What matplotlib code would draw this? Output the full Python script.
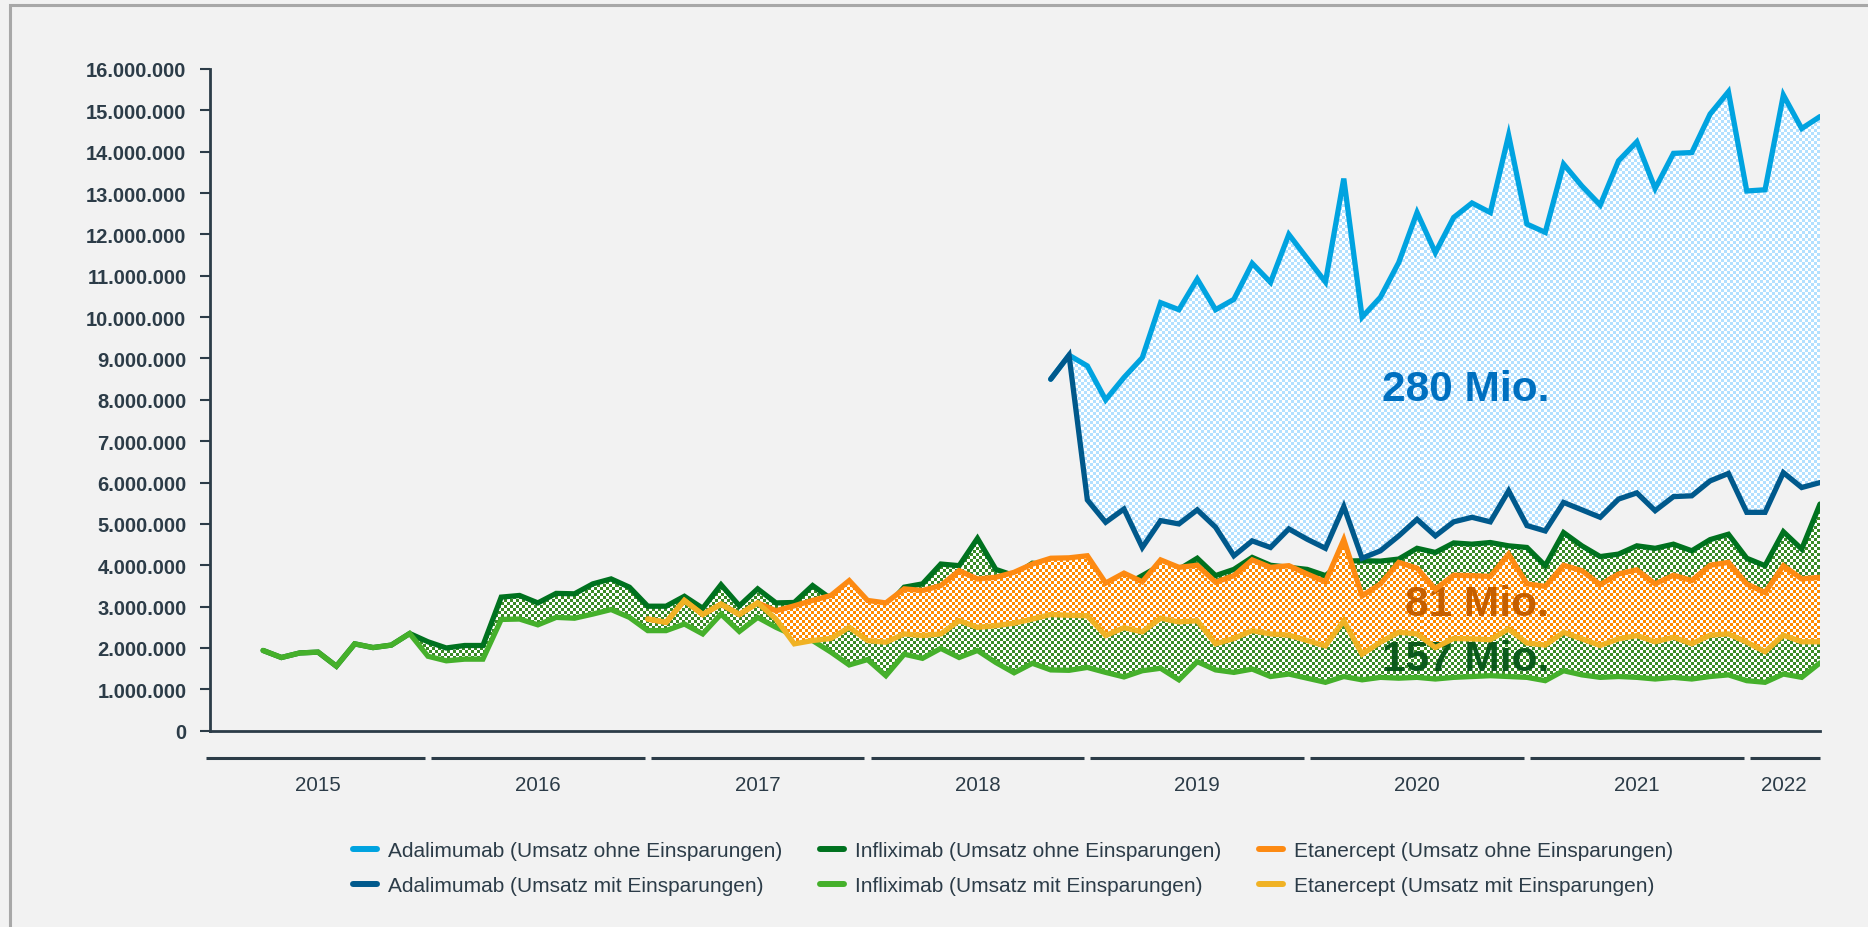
import numpy as np
import pandas as pd
import matplotlib
matplotlib.use("Agg")
import matplotlib.pyplot as plt
import matplotlib.colors as mcolors
from matplotlib.path import Path
from matplotlib.patches import Rectangle
from matplotlib.ticker import FuncFormatter
import matplotlib.transforms as mtransforms

plt.rcParams['font.family'] = ['Liberation Sans', 'DejaVu Sans']

# monthly data, Apr 2015 - May 2022, values in million EUR
months = pd.date_range("2015-04-01", periods=86, freq="MS")

infliximab_ohne = [1.94, 1.77, 1.88, 1.90, 1.56, 2.10, 2.01, 2.07, 2.35, 2.15, 2.00, 2.06, 2.06, 3.23, 3.27, 3.09,
                   3.32, 3.31, 3.55, 3.67, 3.47, 3.01, 3.01, 3.25, 2.96, 3.53, 3.02, 3.43, 3.09, 3.10, 3.51, 3.19,
                   3.25, 3.10, 2.98, 3.47, 3.55, 4.03, 3.99, 4.65, 3.90, 3.75, 4.05, 4.00, 4.05, 4.15, 3.50, 3.50,
                   3.75, 4.00, 3.90, 4.17, 3.75, 3.90, 4.19, 4.00, 3.95, 3.90, 3.75, 4.10, 4.11, 4.10, 4.15, 4.41,
                   4.31, 4.54, 4.51, 4.55, 4.47, 4.43, 3.99, 4.79, 4.47, 4.21, 4.27, 4.47, 4.41, 4.51, 4.35, 4.62,
                   4.75, 4.17, 3.99, 4.81, 4.39, 5.48]
infliximab_mit = [1.94, 1.77, 1.88, 1.90, 1.56, 2.10, 2.01, 2.07, 2.35, 1.80, 1.69, 1.73, 1.73, 2.69, 2.70, 2.56,
                  2.74, 2.72, 2.82, 2.93, 2.74, 2.42, 2.42, 2.58, 2.34, 2.82, 2.40, 2.74, 2.50, 2.30, 2.18, 1.90,
                  1.59, 1.72, 1.33, 1.85, 1.75, 1.99, 1.77, 1.94, 1.65, 1.40, 1.63, 1.47, 1.46, 1.53, 1.41, 1.30,
                  1.45, 1.51, 1.23, 1.67, 1.47, 1.41, 1.49, 1.31, 1.37, 1.27, 1.17, 1.31, 1.23, 1.29, 1.27, 1.29,
                  1.25, 1.29, 1.31, 1.33, 1.31, 1.29, 1.21, 1.45, 1.35, 1.29, 1.31, 1.29, 1.25, 1.29, 1.25, 1.31,
                  1.35, 1.21, 1.17, 1.37, 1.29, 1.64]

etanercept_start = 21  # Jan 2017
etanercept_ohne = [2.70, 2.62, 3.15, 2.81, 3.06, 2.81, 3.09, 2.90, 3.02, 3.15, 3.27, 3.63, 3.15, 3.09, 3.43, 3.39,
                   3.51, 3.87, 3.67, 3.71, 3.83, 4.03, 4.17, 4.18, 4.23, 3.57, 3.81, 3.60, 4.13, 3.95, 4.00, 3.59,
                   3.75, 4.13, 3.95, 3.99, 3.79, 3.60, 4.62, 3.26, 3.55, 4.07, 3.93, 3.42, 3.76, 3.75, 3.73, 4.27,
                   3.55, 3.49, 4.00, 3.87, 3.53, 3.79, 3.89, 3.55, 3.76, 3.63, 4.00, 4.07, 3.55, 3.34, 3.99, 3.67,
                   3.71]
etanercept_mit = [2.70, 2.62, 3.15, 2.81, 3.06, 2.81, 3.09, 2.70, 2.10, 2.18, 2.23, 2.50, 2.18, 2.14, 2.34, 2.30,
                  2.34, 2.66, 2.50, 2.54, 2.60, 2.70, 2.81, 2.79, 2.78, 2.30, 2.49, 2.39, 2.72, 2.63, 2.66, 2.10,
                  2.23, 2.42, 2.34, 2.31, 2.18, 2.05, 2.66, 1.85, 2.14, 2.38, 2.34, 2.01, 2.23, 2.22, 2.20, 2.46,
                  2.12, 2.07, 2.38, 2.22, 2.06, 2.22, 2.30, 2.15, 2.26, 2.10, 2.31, 2.34, 2.14, 1.91, 2.31, 2.15,
                  2.15]

adalimumab_start = 43  # Nov 2018
adalimumab_ohne = [8.50, 9.08, 8.82, 8.00, 8.54, 9.02, 10.35, 10.18, 10.92, 10.18, 10.43, 11.30, 10.84, 12.00,
                   11.42, 10.85, 13.35, 10.00, 10.48, 11.32, 12.53, 11.56, 12.41, 12.76, 12.53, 14.40, 12.25,
                   12.05, 13.70, 13.17, 12.71, 13.78, 14.24, 13.11, 13.96, 13.98, 14.91, 15.45, 13.05, 13.08,
                   15.37, 14.56, 14.85]
adalimumab_mit = [8.50, 9.08, 5.58, 5.04, 5.36, 4.43, 5.08, 5.00, 5.34, 4.92, 4.23, 4.59, 4.43, 4.88, 4.63, 4.41,
                  5.42, 4.17, 4.35, 4.71, 5.11, 4.71, 5.05, 5.16, 5.05, 5.80, 4.96, 4.83, 5.52, 5.34, 5.16, 5.60,
                  5.75, 5.32, 5.66, 5.68, 6.04, 6.22, 5.28, 5.28, 6.24, 5.88, 6.00]

savings_labels = ["280 Mio.", "81 Mio.", "157 Mio."]
savings_pos = [(70.2, 8.26), (70.2, 3.06), (70.2, 1.73)]
savings_colors = ["#0070c0", "#c55f00", "#0b5a1c"]

c_ada_ohne, c_ada_mit = "#00a3e0", "#00598c"
c_inf_ohne, c_inf_mit = "#00721f", "#45b02b"
c_eta_ohne, c_eta_mit = "#fd8a12", "#f0b224"
dark = "#2c3c48"
bg = "#f2f2f2"

x_all = np.arange(len(months))
x_eta = x_all[etanercept_start:etanercept_start + len(etanercept_ohne)]
x_ada = x_all[adalimumab_start:adalimumab_start + len(adalimumab_ohne)]
M = 1e6

fig = plt.figure(figsize=(18.68, 9.28), dpi=100, facecolor=bg)
ax = fig.add_axes([210 / 1868, 196.3 / 928, 1610 / 1868, 661.7 / 928], facecolor=bg)
xlim = (-2.9, 85)
ylim = (0, 16e6)

# checkerboard pattern fill between two lines
rows, cols = 661 // 3, 1610 // 3
def checker_fill(x, lo, hi, color, z):
    band = ax.fill_between(x, lo, hi, facecolor='none', edgecolor='none', linewidth=0)
    path = Path.make_compound_path(*band.get_paths())
    rgba = np.ones((rows, cols, 4))
    mask = (np.add.outer(np.arange(rows), np.arange(cols)) % 2) == 0
    rgba[mask, :3] = mcolors.to_rgb(color)
    img = ax.imshow(rgba, extent=(xlim[0], xlim[1], ylim[0], ylim[1]), aspect='auto',
                    interpolation='nearest', zorder=z)
    img.set_clip_path(path, transform=ax.transData)

inf_o = np.array(infliximab_ohne) * M
inf_m = np.array(infliximab_mit) * M
eta_o = np.array(etanercept_ohne) * M
eta_m = np.array(etanercept_mit) * M
ada_o = np.array(adalimumab_ohne) * M
ada_m = np.array(adalimumab_mit) * M

lw = 3.8
kw = dict(linewidth=lw, solid_capstyle='round', solid_joinstyle='miter')

checker_fill(x_all, inf_m, inf_o, "#3a8a26", 1)
ax.plot(x_all, inf_o, color=c_inf_ohne, zorder=2, **kw)
ax.plot(x_all, inf_m, color=c_inf_mit, zorder=2.1, **kw)

checker_fill(x_eta, eta_m, eta_o, "#ff8a00", 3)
ax.plot(x_eta, eta_o, color=c_eta_ohne, zorder=4, **kw)
ax.plot(x_eta, eta_m, color=c_eta_mit, zorder=4.1, **kw)

checker_fill(x_ada, ada_m, ada_o, "#b3e0ff", 5)
ax.plot(x_ada, ada_o, color=c_ada_ohne, zorder=6, **kw)
ax.plot(x_ada, ada_m, color=c_ada_mit, zorder=6.1, **kw)

for lab, (px, py), col, z in zip(savings_labels, savings_pos, savings_colors, [5.5, 3.5, 3.5]):
    ax.text(px, py * M, lab, color=col, fontsize=30.5, fontweight='bold', ha='right', va='center', zorder=z)

ax.set_xlim(*xlim)
ax.set_ylim(*ylim)
ax.set_yticks(np.arange(0, 16e6 + 1, 1e6))
ax.yaxis.set_major_formatter(FuncFormatter(lambda v, p: f"{int(v):,}".replace(",", ".")))
ax.tick_params(axis='y', length=7, width=1.5, color=dark, pad=10, labelsize=14.5, labelcolor=dark)
for t in ax.get_yticklabels():
    t.set_fontweight('bold')
ax.set_xticks([])
for s in ['top', 'right']:
    ax.spines[s].set_visible(False)
for s in ['left', 'bottom']:
    ax.spines[s].set_color(dark)
    ax.spines[s].set_linewidth(2)

# year grouping below the axis
trans = mtransforms.blended_transform_factory(ax.transData, ax.transAxes)
years = months.year
for k, yr in enumerate(sorted(set(years))):
    first = np.where(years == yr)[0][0]
    start = first - (months[first].month - 1)
    end = min(start + 12, x_all[-1])
    a = start + (0.17 if k > 0 else -0.1)
    b = end - (0.17 if end < x_all[-1] else 0)
    ax.plot([a, b], [-0.0413, -0.0413], color=dark, linewidth=2.2, transform=trans, clip_on=False,
            solid_capstyle='butt')
    ax.text((start + end) / 2, -0.082, str(yr), transform=trans, ha='center', va='center',
            fontsize=14.8, color=dark)

# legend
handles = []
for lab, col in [("Adalimumab (Umsatz ohne Einsparungen)", c_ada_ohne),
                 ("Adalimumab (Umsatz mit Einsparungen)", c_ada_mit),
                 ("Infliximab (Umsatz ohne Einsparungen)", c_inf_ohne),
                 ("Infliximab (Umsatz mit Einsparungen)", c_inf_mit),
                 ("Etanercept (Umsatz ohne Einsparungen)", c_eta_ohne),
                 ("Etanercept (Umsatz mit Einsparungen)", c_eta_mit)]:
    h, = ax.plot([], [], color=col, linewidth=4.3, solid_capstyle='round', label=lab)
    handles.append(h)
leg = fig.legend(handles=handles, ncol=3, loc='center', bbox_to_anchor=(0.5423, 0.0635), frameon=False,
                 fontsize=15, handlelength=1.15, handletextpad=0.55, columnspacing=1.8, labelspacing=0.75)
for t in leg.get_texts():
    t.set_color(dark)

# outer frame
fig.patches.append(Rectangle((10 / 1868, -0.1), 1.2, 1.1 - 6 / 928, transform=fig.transFigure,
                             facecolor='none', edgecolor='#a8a8a8', linewidth=2.2, clip_on=False))

fig.savefig("out.png", dpi=100, facecolor=bg)
